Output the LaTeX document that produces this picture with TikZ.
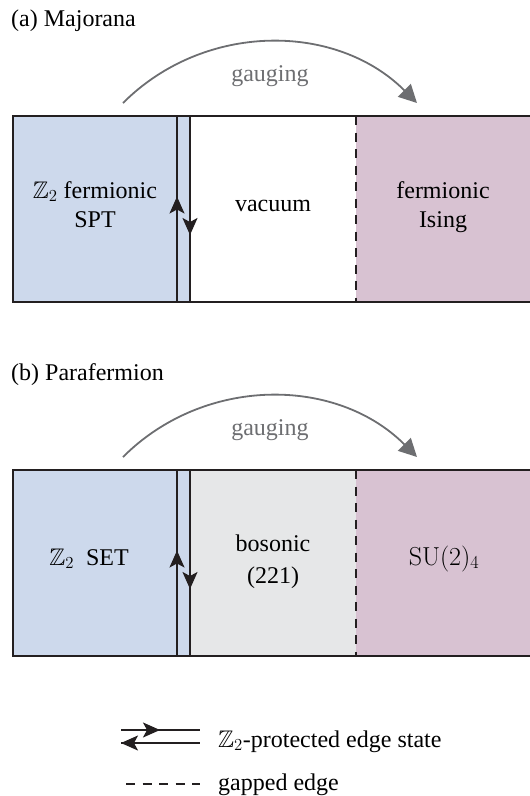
\RequirePackage{fix-cm}
\documentclass[tikz,border=0pt]{standalone}
\usepackage{amssymb}
\usepackage[no-math]{fontspec}
\setmainfont{Liberation Serif}
\usetikzlibrary{arrows.meta}
\definecolor{ink}{HTML}{231F20}
\definecolor{blueR}{HTML}{CDD9EC}
\definecolor{purpR}{HTML}{D8C2D2}
\definecolor{greyR}{HTML}{E6E7E8}
\definecolor{arcg}{HTML}{6D6E71}
\begin{document}
\begin{tikzpicture}[x=1pt,y=-1pt,
  lbl/.style={font=\fontsize{24}{29.5}\selectfont, inner sep=0pt, align=center, anchor=base},
  glbl/.style={lbl, text=arcg},
  frame/.style={draw=ink, line width=2pt},
  edgeline/.style={draw=ink, line width=1.7pt},
  edgetip/.style={-{Stealth[length=17pt,width=15pt,inset=4pt]}},
  gaps/.style={draw=ink, line width=1.7pt, dash pattern=on 9pt off 7.5pt},
  gauge/.style={draw=arcg, line width=1.8pt, -{Triangle[length=18pt,width=18pt]}},
]
\useasboundingbox (0,0) rectangle (530,796);

% ---------------- panel (a) ----------------
\node[lbl, anchor=base west] (tA) at (11,26.5) {(a) Majorana};
\fill[blueR] (13,116) rectangle (190,302);
\fill[purpR] (356,116) rectangle (530,302);
\coordinate (aTL) at (13,116);
\coordinate (aBL) at (13,302);
\coordinate (aTR) at (530,116);
\coordinate (aBR) at (530,302);
\draw[frame] (aTR) -- (aTL) -- (aBL) -- (aBR);
\coordinate (aL1) at (177,116); \coordinate (aL2) at (177,302);
\coordinate (aR1) at (190,116); \coordinate (aR2) at (190,302);
\draw[edgeline] (aL1) -- (aL2);
\draw[edgeline] (aR1) -- (aR2);
\coordinate (aUpS) at (177,240); \coordinate (aUpT) at (177,196.5);
\coordinate (aDnS) at (190,200); \coordinate (aDnT) at (190,235);
\draw[edgeline, edgetip] (aUpS) -- (aUpT);
\draw[edgeline, edgetip] (aDnS) -- (aDnT);
\coordinate (aG1) at (356,116); \coordinate (aG2) at (356,302);
\draw[gaps] (aG1) -- (aG2);
\coordinate (aArcS) at (123,103); \coordinate (aArcE) at (417,103);
\draw[gauge] (aArcS) .. controls (204,22) and (336,22) .. (aArcE);
\node[glbl] (gA) at (270,81) {gauging};
\node[lbl] (sptA) at (95,227.5) {$\mathbb{Z}_2$ fermionic\\SPT};
\node[lbl] (vacA) at (273,211) {vacuum};
\node[lbl] (isA) at (443,227.5) {fermionic\\Ising};

% ---------------- panel (b) ----------------
\node[lbl, anchor=base west] (tB) at (11,380.5) {(b) Parafermion};
\fill[blueR] (13,470) rectangle (190,656);
\fill[greyR] (190,470) rectangle (356,656);
\fill[purpR] (356,470) rectangle (530,656);
\coordinate (bTL) at (13,470);
\coordinate (bBL) at (13,656);
\coordinate (bTR) at (530,470);
\coordinate (bBR) at (530,656);
\draw[frame] (bTR) -- (bTL) -- (bBL) -- (bBR);
\coordinate (bL1) at (177,470); \coordinate (bL2) at (177,656);
\coordinate (bR1) at (190,470); \coordinate (bR2) at (190,656);
\draw[edgeline] (bL1) -- (bL2);
\draw[edgeline] (bR1) -- (bR2);
\coordinate (bUpS) at (177,594); \coordinate (bUpT) at (177,550.5);
\coordinate (bDnS) at (190,554); \coordinate (bDnT) at (190,589);
\draw[edgeline, edgetip] (bUpS) -- (bUpT);
\draw[edgeline, edgetip] (bDnS) -- (bDnT);
\coordinate (bG1) at (356,470); \coordinate (bG2) at (356,656);
\draw[gaps] (bG1) -- (bG2);
\coordinate (bArcS) at (123,457); \coordinate (bArcE) at (417,457);
\draw[gauge] (bArcS) .. controls (204,376) and (336,376) .. (bArcE);
\node[glbl] (gB) at (270,435) {gauging};
\node[lbl] (setB) at (89,565) {$\mathbb{Z}_2$\ \ SET};
\node[lbl, font=\fontsize{24}{31.5}\selectfont] (bosB) at (273,583) {bosonic\\(221)};
\node[lbl, font=\fontsize{26}{30}\selectfont] (suB) at (444,565) {$\mathrm{SU}(2)_4$};

% ---------------- legend ----------------
\coordinate (lA1) at (121,730); \coordinate (lA2) at (200,730);
\coordinate (lB1) at (121,743); \coordinate (lB2) at (200,743);
\draw[edgeline] (lA1) -- (lA2);
\draw[edgeline] (lB1) -- (lB2);
\coordinate (lAs) at (135,730); \coordinate (lAt) at (160,730);
\coordinate (lBs) at (150,743); \coordinate (lBt) at (121,743);
\draw[edgeline, edgetip] (lAs) -- (lAt);
\draw[edgeline, edgetip] (lBs) -- (lBt);
\node[lbl, anchor=base west] (legA) at (218,747) {$\mathbb{Z}_2$-protected edge state};
\coordinate (lD1) at (126,784); \coordinate (lD2) at (200,784);
\draw[gaps] (lD1) -- (lD2);
\node[lbl, anchor=base west] (legB) at (218,790) {gapped edge};
\end{tikzpicture}
\end{document}
